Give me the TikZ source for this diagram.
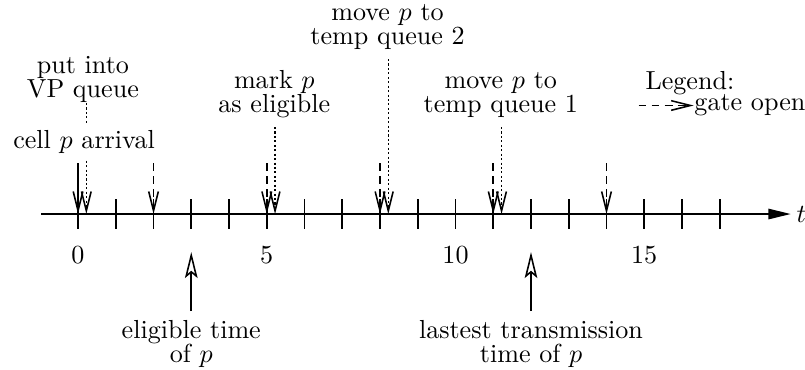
\documentclass[tikz,border=0pt]{standalone}
\usepackage{amsmath}
\usepackage{tikz}
\usetikzlibrary{arrows.meta}

\begin{document}
\begin{tikzpicture}[
		x=0.5085cm,
		line width=0.6pt,
		every node/.style={font=\fontsize{10pt}{9.2pt}\selectfont, align=center},
		open_tip/.style={-{Straight Barb[length=2.6mm, width=1.3mm]}},
		solid_arrow/.style={open_tip},
		gate_arrow/.style={open_tip, dash pattern=on 3pt off 2pt},
		cue_arrow/.style={open_tip, dash pattern=on 0.8pt off 0.9pt},
		mark_arrow/.style={-{Stealth[open, length=3.5mm, width=1.7mm, inset=0.7mm]}}
	]
  \useasboundingbox (-1.051cm, -2.101cm) rectangle (9.793cm, 2.883cm);
  % time axis with unit ticks
  \coordinate (t_start) at (-0.98, 0);
  \coordinate (t_end) at (18.88, 0);
  \draw [-{Triangle[length=3mm, width=1.4mm]}] (t_start) -- (t_end);
  \node (t_label) [right, inner sep=2pt] at (t_end) {$t$};
  \foreach \k in {0,...,17} {
    \coordinate (t\k) at (\k, 0);
    \draw ([yshift=0.2cm]t\k) -- ([yshift=-0.2cm]t\k);
  }
  \foreach \k in {0,5,10,15}
    \node (n\k) at (\k, -0.55) {\k};

  % arrival of cell p
  \node (vp) [above, inner sep=0pt] at (0.13, 1.495) {put into\\VP queue};
  \coordinate (d0) at (0.22, 0);
  \draw [cue_arrow] (vp.south -| d0) -- (d0);
  \node (arrival) [fill=white, inner sep=2pt] at (0.16, 0.977) {cell $p$ arrival};
  \draw [solid_arrow] ([yshift=0.687cm]t0) -- (t0);

  % gate openings
  \foreach \k in {2,5,8,11,14}
    \draw [gate_arrow] ([yshift=0.687cm]t\k) -- (t\k);

  % events of p
  \node (mark) [above] at (5.2, 1.172) {mark $p$\\as eligible};
  \coordinate (d5) at (5.22, 0);
  \draw [cue_arrow] (mark.south -| d5) -- (d5);
  \node (move2) [above] at (8.2, 2.088) {move $p$ to\\temp queue 2};
  \coordinate (d8) at (8.22, 0);
  \draw [cue_arrow] (move2.south -| d8) -- (d8);
  \node (move1) [above] at (11.2, 1.172) {move $p$ to\\temp queue 1};
  \coordinate (d11) at (11.22, 0);
  \draw [cue_arrow] (move1.south -| d11) -- (d11);

  % times below the axis
  \coordinate (u3) at (3, -0.512);
  \node (eligible) [below] at (3, -1.307) {eligible time\\of $p$};
  \draw [mark_arrow] (eligible) -- (u3);
  \coordinate (u12) at (12, -0.512);
  \node (latest) [below] at (12, -1.307) {lastest transmission\\time of $p$};
  \draw [mark_arrow] (latest) -- (u12);

  % legend
  \node (legend) [anchor=base] at (16.21, 1.684) {Legend:};
  \node (gate) [anchor=base west, inner sep=0pt] at (16.31, 1.388) {gate open};
  \coordinate (gate_tail) at (14.85, 1.462);
  \draw [gate_arrow] (gate_tail) -- (gate_tail -| gate.west);
\end{tikzpicture}
\end{document}
